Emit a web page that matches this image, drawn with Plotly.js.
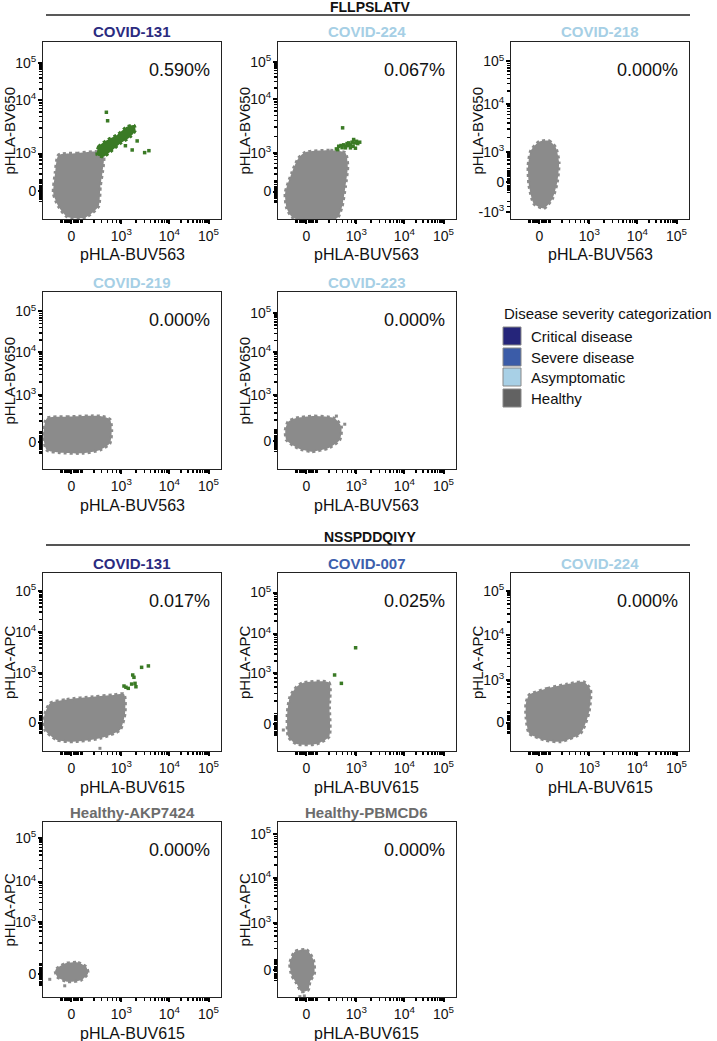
<!DOCTYPE html>
<html>
<head>
<meta charset="utf-8">
<script src="https://cdn.plot.ly/plotly-3.0.1.min.js"></script>
<style>
  html, body { margin: 0; padding: 0; background: #fff; }
  #chart { width: 717px; height: 1041px; }
</style>
</head>
<body>
<div id="chart"></div>
<script>
// one entry per panel, reading order (two peptide blocks)
let samples = ['COVID-131', 'COVID-224', 'COVID-218', 'COVID-219', 'COVID-223',
               'COVID-131', 'COVID-007', 'COVID-224', 'Healthy-AKP7424', 'Healthy-PBMCD6'];
let severity = [0, 2, 2, 2, 2, 0, 1, 2, 3, 3];
let frequency = ['0.590%', '0.067%', '0.000%', '0.000%', '0.000%',
                 '0.017%', '0.025%', '0.000%', '0.000%', '0.000%'];
let peptides = ['FLLPSLATV', 'NSSPDDQIYY'];
let peptideOf = [0, 0, 0, 0, 0, 1, 1, 1, 1, 1];
let xChannel = ['pHLA-BUV563', 'pHLA-BUV615'];
let yChannel = ['pHLA-BV650', 'pHLA-APC'];

let categories = ['Critical disease', 'Severe disease', 'Asymptomatic', 'Healthy'];
let categoryColors = ['#25257a', '#3b5ca8', '#a8d0e6', '#626262'];
let titleColors = ['#2b2b80', '#3d5fad', '#a6cfe5', '#6c6c6c'];

// biexponential display axis, ticks (axis units 0-100)
let tickText = ['0', '10<sup>3</sup>', '10<sup>4</sup>', '10<sup>5</sup>'];
let xTickPos = [16, 44, 71, 93];
let yTickPos = [[16, 37, 67, 88], [15.5, 37.5, 67.6, 88.6], [21, 38, 65, 89], [15, 42, 66, 89], [16, 42, 66, 88],
                [16, 44, 67, 90], [15, 44, 66, 89], [16, 40, 65, 90], [13, 43, 66, 91], [15.5, 42.5, 68, 93]];
let yNegTick = [null, null, 4, null, null, null, null, null, null, null];

// outline of the gray (pHLA-negative) event cloud
let grayX = [
  [8.7, 19, 30.3, 34.1, 33.5, 32.2, 31.2, 24.7, 20.9, 13.4, 8.7, 5.8, 6.8],
  [15.3, 29.4, 37.9, 39.2, 37.9, 36.0, 33.2, 8.7, 4.9, 4.0, 7.7, 11.5],
  [15.7, 21.3, 25.1, 27.0, 26.0, 23.2, 18.5, 12.9, 10.1, 9.6, 11.1],
  [2.1, 13.3, 32.0, 37.6, 38.6, 37.6, 32.0, 22.6, 9.6, 2.1, 0.2],
  [9.4, 20.6, 31.9, 35.6, 34.7, 28.1, 18.7, 11.2, 4.7, 4.1, 5.6],
  [3.9, 13.3, 28.3, 39.5, 45.5, 46.1, 43.3, 32.0, 17.0, 7.7, 1.1, 0.6],
  [14.2, 28.7, 28.9, 28.7, 21.6, 10.4, 5.8, 5.2, 6.7, 10.4],
  [10.2, 20.5, 31.7, 41.0, 44.7, 43.7, 39.1, 27.9, 18.6, 10.2, 8.4, 8.4],
  [12.2, 19.7, 24.3, 25.3, 21.5, 14.0, 8.0, 6.9],
  [9.5, 16.1, 19.9, 20.5, 18.0, 17.0, 13.2, 10.4, 7.6, 6.6]
];
let grayY = [
  [36.2, 37.2, 38.0, 35.2, 27, 18.3, 7.0, 1.3, 0.4, 1.3, 7.0, 14.5, 25.8],
  [37.7, 38.8, 37.3, 29.7, 18.4, 7.0, 0.4, 0.4, 6.1, 14.6, 26.0, 34.5],
  [43.7, 44.2, 40.5, 32.0, 20.7, 11.3, 6.0, 8.5, 18.8, 30.1, 38.6],
  [28.6, 29.5, 29.9, 28.1, 22.0, 14.5, 10.7, 8.9, 9.2, 10.7, 18.2],
  [28.6, 29.9, 28.6, 23.9, 16.4, 11.7, 9.8, 11.7, 16.4, 22.0, 26.7],
  [26.8, 29.0, 30.5, 31.5, 32.0, 21.2, 11.8, 7.1, 5.2, 6.2, 11.8, 19.3],
  [38.4, 38.4, 24.9, 8.0, 3.9, 3.9, 8.0, 21.2, 30.5, 36.1],
  [31.5, 35.2, 37.6, 38.8, 34.3, 21.2, 9.9, 5.2, 6.2, 9.9, 19.3, 26.8],
  [19.1, 19.7, 17.2, 13.5, 9.7, 8.7, 11.5, 15.3],
  [26.0, 27.0, 21.3, 13.6, 8.8, 4.0, 3.0, 7.9, 12.6, 19.4]
];
// stray gray events outside the main cloud
let strayX = [[], [], [], [], [37.5, 32.8], [32.0], [3.0], [], [3.8, 12.2], [12.3, 14.8]];
let strayY = [[], [], [], [], [25.3, 29.9], [1.5], [11.8], [], [10.1, 6.4], [0.2, 0.6]];

// dense pHLA-positive (green) population, COVID-131 / FLLPSLATV only
let posCloudX = [[30.3, 31.2, 36.0, 41.6, 47.3, 51.0, 52.0, 49.2, 43.5, 37.9, 34.1], [], [], [], [], [], [], [], [], []];
let posCloudY = [[36.2, 40.9, 44.6, 47.5, 52.2, 53.1, 50.3, 46.5, 42.7, 38.0, 35.2], [], [], [], [], [], [], [], [], []];
// single pHLA-positive events
let posX = [
  [35.6, 36.3, 46.3, 50.1, 52.9, 57.1, 59.5],
  [32.8, 34.1, 35.4, 36.9, 37.9, 38.8, 39.7, 40.7, 41.6, 42.5, 42.9, 44.1, 44.8, 45.9, 37.9, 36.0, 33.5, 36.3, 43.5, 40.7, 39.2, 42.2],
  [], [], [],
  [45.5, 47.9, 46.6, 49.8, 51.7, 50.4, 51.1, 52.2, 55.4, 59.2],
  [31.8, 35.6, 43.6],
  [], [], []
];
let posY = [
  [60.3, 55.5, 41.4, 39.0, 44.1, 37.5, 38.6],
  [39.6, 41.1, 41.5, 41.9, 41.1, 42.6, 43.0, 41.9, 43.4, 44.9, 43.0, 43.9, 42.6, 43.4, 40.2, 40.3, 39.2, 51.5, 40.0, 40.2, 41.5, 41.1],
  [], [], [],
  [36.5, 35.2, 35.8, 37.6, 38.0, 42.7, 41.4, 36.1, 47.0, 47.8],
  [42.7, 38.0, 58.0],
  [], [], []
];

const W = 717, H = 1041;
const GRAY = '#8b8b8b', GREEN = '#3a7a25';
const FONT = 'Liberation Sans, Arial, Helvetica, sans-serif';
const colLeft = [43, 278, 511];
const rowTop = [42, 292, 573, 822];
const rowH = [177, 177, 178, 175];
const panelW = 178;
const panelRow = [0, 0, 0, 1, 1, 2, 2, 2, 3, 3];
const panelCol = [0, 1, 2, 0, 1, 0, 1, 2, 0, 1];

function closed(a) { return a.length ? a.concat([a[0]]) : a; }

function minorTicks(t, neg) {
  let v = [];
  for (let d = -6; d <= 6; d += 1) v.push(t[0] + d);
  [0.45, 0.6, 0.72, 0.82, 0.9, 0.96].forEach(f => v.push(t[0] + (t[1] - t[0]) * f));
  for (let k = 2; k <= 9; k++) {
    v.push(t[1] + (t[2] - t[1]) * Math.log10(k));
    v.push(t[2] + (t[3] - t[2]) * Math.log10(k));
  }
  if (neg != null) v.push(neg, neg + 3, neg + 6);
  return v.filter(p => p > 0.5 && p < 99.5);
}

let data = [];
let layout = {
  width: W, height: H,
  margin: {l: 0, r: 0, t: 0, b: 0},
  paper_bgcolor: '#fff', plot_bgcolor: '#fff',
  font: {family: FONT, color: '#111'},
  showlegend: false,
  annotations: [],
  shapes: []
};

samples.forEach((name, i) => {
  let ax = i === 0 ? '' : String(i + 1);
  let r = panelRow[i], c = panelCol[i];
  let left = colLeft[c], top = rowTop[r], h = rowH[r];
  let pep = peptideOf[i];

  data.push({
    type: 'scatter', x: closed(grayX[i]), y: closed(grayY[i]),
    xaxis: 'x' + ax, yaxis: 'y' + ax,
    mode: 'lines', fill: 'toself', fillcolor: GRAY,
    line: {color: GRAY, width: 3, dash: 'dot', shape: 'spline', smoothing: 0.6},
    hoverinfo: 'skip'
  });
  if (strayX[i].length) {
    data.push({
      type: 'scatter', x: strayX[i], y: strayY[i], xaxis: 'x' + ax, yaxis: 'y' + ax,
      mode: 'markers', marker: {symbol: 'square', size: 3, color: GRAY}, hoverinfo: 'skip'
    });
  }
  if (posCloudX[i].length) {
    data.push({
      type: 'scatter', x: closed(posCloudX[i]), y: closed(posCloudY[i]),
      xaxis: 'x' + ax, yaxis: 'y' + ax,
      mode: 'lines', fill: 'toself', fillcolor: GREEN,
      line: {color: GREEN, width: 3, dash: 'dot', shape: 'spline', smoothing: 0.6},
      hoverinfo: 'skip'
    });
  }
  if (posX[i].length) {
    data.push({
      type: 'scatter', x: posX[i], y: posY[i], xaxis: 'x' + ax, yaxis: 'y' + ax,
      mode: 'markers', marker: {symbol: 'square', size: 3.5, color: GREEN}, hoverinfo: 'skip'
    });
  }

  let yt = yTickPos[i].slice(), ytt = tickText.slice();
  if (yNegTick[i] != null) { yt.unshift(yNegTick[i]); ytt.unshift('-10<sup>3</sup>'); }

  let common = {
    range: [0, 100], showgrid: false, zeroline: false,
    showline: true, mirror: true, linecolor: '#222', linewidth: 1,
    ticks: 'outside', ticklen: 4, tickwidth: 2, tickcolor: '#000',
    tickmode: 'array', tickfont: {family: FONT, size: 14, color: '#111'},
    fixedrange: true
  };
  layout['xaxis' + ax] = Object.assign({}, common, {
    domain: [left / W, (left + panelW) / W], anchor: 'y' + ax,
    tickvals: xTickPos, ticktext: tickText,
    minor: {tickmode: 'array', tickvals: minorTicks(xTickPos, null), ticks: 'outside',
            ticklen: 3, tickwidth: 1.5, tickcolor: '#000'}
  });
  layout['yaxis' + ax] = Object.assign({}, common, {
    domain: [1 - (top + h) / H, 1 - top / H], anchor: 'x' + ax,
    tickvals: yt, ticktext: ytt, ticklabelstandoff: -1,
    minor: {tickmode: 'array', tickvals: minorTicks(yTickPos[i], yNegTick[i]), ticks: 'outside',
            ticklen: 3, tickwidth: 1.5, tickcolor: '#000'}
  });

  // panel title, coloured by disease severity
  layout.annotations.push({
    xref: 'paper', yref: 'paper', x: (left + panelW / 2) / W, y: 1 - (top - 10) / H,
    text: '<b>' + name + '</b>', showarrow: false, xanchor: 'center', yanchor: 'middle',
    font: {family: FONT, size: 15, color: titleColors[severity[i]]}
  });
  // frequency of pHLA+ events
  layout.annotations.push({
    xref: 'paper', yref: 'paper', x: (left + panelW - 9) / W, y: 1 - (top + 28) / H,
    text: frequency[i], showarrow: false, xanchor: 'right', yanchor: 'middle',
    font: {family: FONT, size: 18, color: '#111'}
  });
  // axis titles
  layout.annotations.push({
    xref: 'paper', yref: 'paper', x: (left + panelW / 2) / W, y: 1 - (top + h + 36) / H,
    text: xChannel[pep], showarrow: false, xanchor: 'center', yanchor: 'middle',
    font: {family: FONT, size: 16, color: '#111'}
  });
  layout.annotations.push({
    xref: 'paper', yref: 'paper', x: (left - 34) / W, y: 1 - (top + h / 2) / H,
    text: yChannel[pep], showarrow: false, textangle: -90, xanchor: 'center', yanchor: 'middle',
    font: {family: FONT, size: 15, color: '#111'}
  });
});

// peptide block headers
let headerY = [7, 537], lineY = [15, 545];
peptides.forEach((p, k) => {
  layout.annotations.push({
    xref: 'paper', yref: 'paper', x: 370 / W, y: 1 - headerY[k] / H,
    text: '<b>' + p + '</b>', showarrow: false, xanchor: 'center', yanchor: 'middle',
    font: {family: FONT, size: 14, color: '#111'}
  });
  layout.shapes.push({
    type: 'line', xref: 'paper', yref: 'paper',
    x0: 46 / W, x1: 690 / W, y0: 1 - lineY[k] / H, y1: 1 - lineY[k] / H,
    line: {color: k === 0 ? '#222' : '#555', width: k === 0 ? 1.5 : 2}
  });
});

// severity legend
layout.annotations.push({
  xref: 'paper', yref: 'paper', x: 502 / W, y: 1 - 313 / H,
  text: 'Disease severity categorization', showarrow: false, xanchor: 'left', yanchor: 'middle',
  font: {family: FONT, size: 15, color: '#111'}
});
let swatchTop = [327, 348, 368, 389];
categories.forEach((cat, k) => {
  layout.shapes.push({
    type: 'rect', xref: 'paper', yref: 'paper',
    x0: 503 / W, x1: 521 / W, y0: 1 - (swatchTop[k] + 18) / H, y1: 1 - swatchTop[k] / H,
    fillcolor: categoryColors[k], line: {color: '#888', width: 1}
  });
  layout.annotations.push({
    xref: 'paper', yref: 'paper', x: 529 / W, y: 1 - (swatchTop[k] + 9) / H,
    text: cat, showarrow: false, xanchor: 'left', yanchor: 'middle',
    font: {family: FONT, size: 15, color: '#111'}
  });
});

Plotly.newPlot('chart', data, layout, {displayModeBar: false, staticPlot: true});
</script>
</body>
</html>
